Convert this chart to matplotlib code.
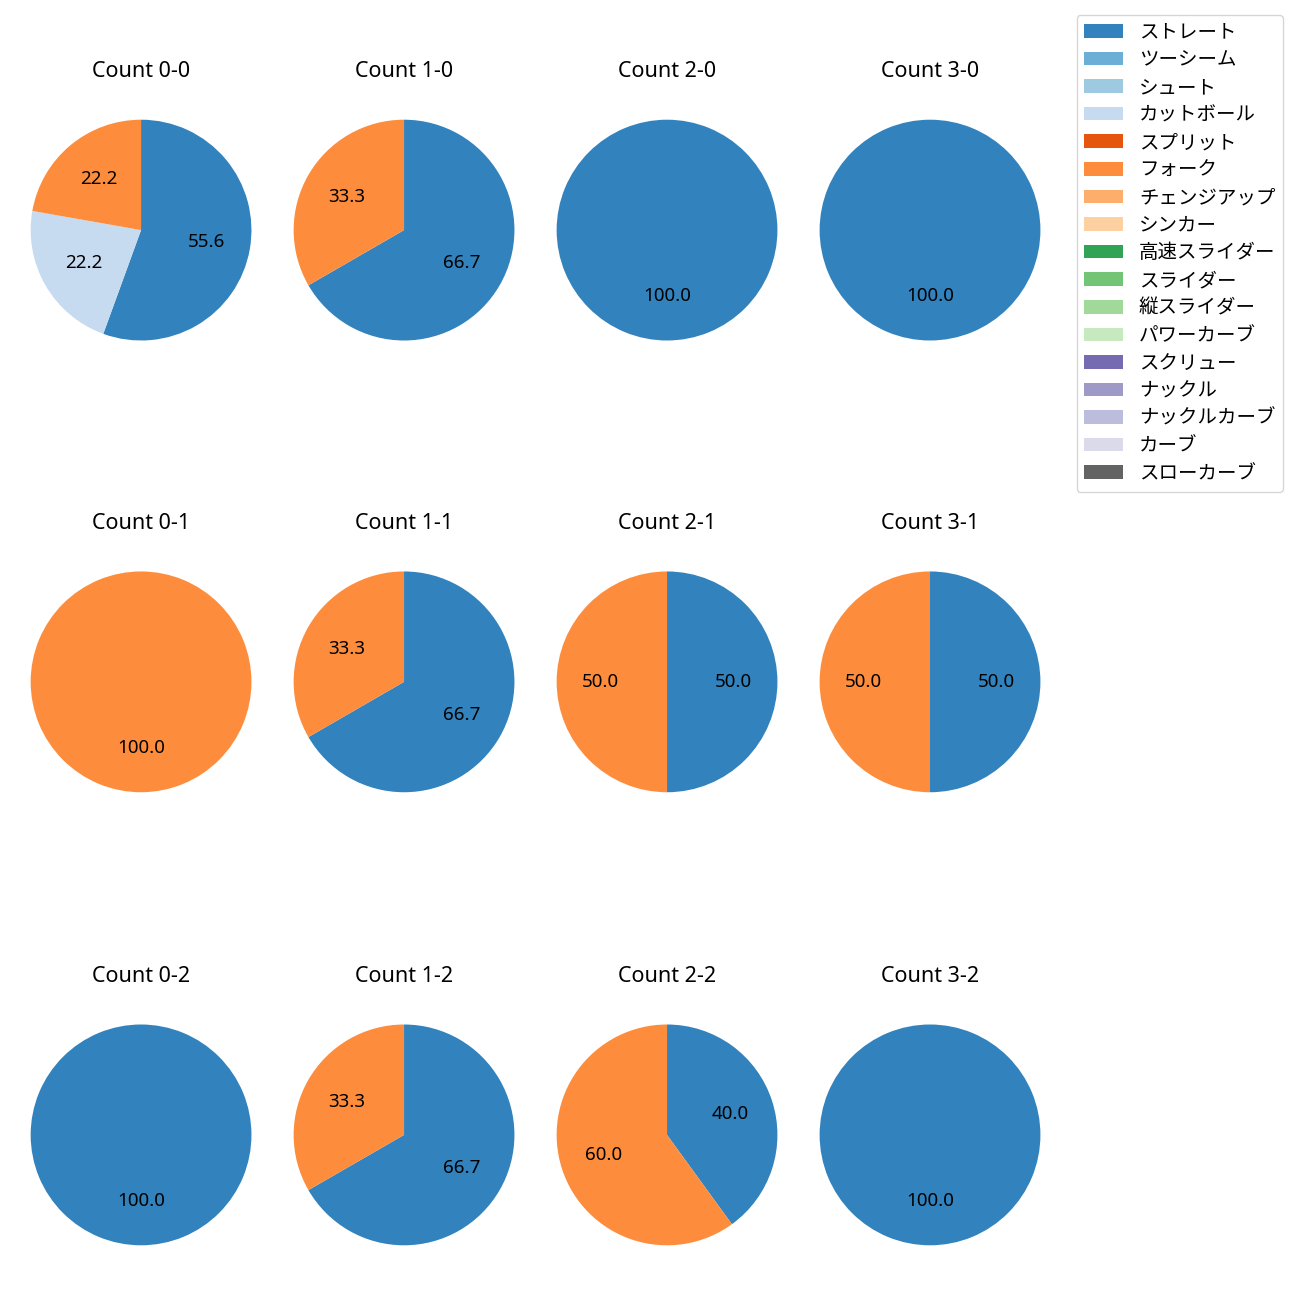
import matplotlib
matplotlib.use("Agg")
import matplotlib.pyplot as plt
from matplotlib.patches import Patch

plt.rcParams['font.family'] = ['Noto Sans', 'Noto Sans CJK JP', 'DejaVu Sans']

# 球種（凡例の順）
pitch_types = ['ストレート', 'ツーシーム', 'シュート', 'カットボール', 'スプリット',
               'フォーク', 'チェンジアップ', 'シンカー', '高速スライダー', 'スライダー',
               '縦スライダー', 'パワーカーブ', 'スクリュー', 'ナックル', 'ナックルカーブ',
               'カーブ', 'スローカーブ']

# カウント別の投球数（ボール-ストライク）
counts = {
    '0-0': {'ストレート': 5, 'カットボール': 2, 'フォーク': 2},
    '1-0': {'ストレート': 2, 'フォーク': 1},
    '2-0': {'ストレート': 1},
    '3-0': {'ストレート': 1},
    '0-1': {'フォーク': 1},
    '1-1': {'ストレート': 2, 'フォーク': 1},
    '2-1': {'ストレート': 1, 'フォーク': 1},
    '3-1': {'ストレート': 1, 'フォーク': 1},
    '0-2': {'ストレート': 1},
    '1-2': {'ストレート': 2, 'フォーク': 1},
    '2-2': {'ストレート': 2, 'フォーク': 3},
    '3-2': {'ストレート': 1},
}

cmap = plt.get_cmap('tab20c')
colors = {p: cmap(i) for i, p in enumerate(pitch_types)}

fig = plt.figure(figsize=(13, 13), dpi=100)

col_x = [0.1085, 0.3108, 0.5131, 0.7154]
row_y = [0.823, 0.4755, 0.127]
size = 0.2123

for strikes in range(3):
    for balls in range(4):
        key = f'{balls}-{strikes}'
        cx, cy = col_x[balls], row_y[strikes]
        ax = fig.add_axes([cx - size / 2, cy - size / 2, size, size])
        data = counts[key]
        labels = [p for p in pitch_types if p in data]
        vals = [data[p] for p in labels]
        ax.pie(vals, colors=[colors[p] for p in labels], startangle=90,
               counterclock=False, autopct='%.1f', textprops={'fontsize': 13.5})
        ax.set_title(f'Count {key}', fontsize=15.5, pad=11)

handles = [Patch(facecolor=colors[p], label=p) for p in pitch_types]
fig.legend(handles=handles, loc='upper right', bbox_to_anchor=(0.987, 0.9885),
           borderaxespad=0, fontsize=14, labelspacing=0.39)

fig.savefig('out.png')
